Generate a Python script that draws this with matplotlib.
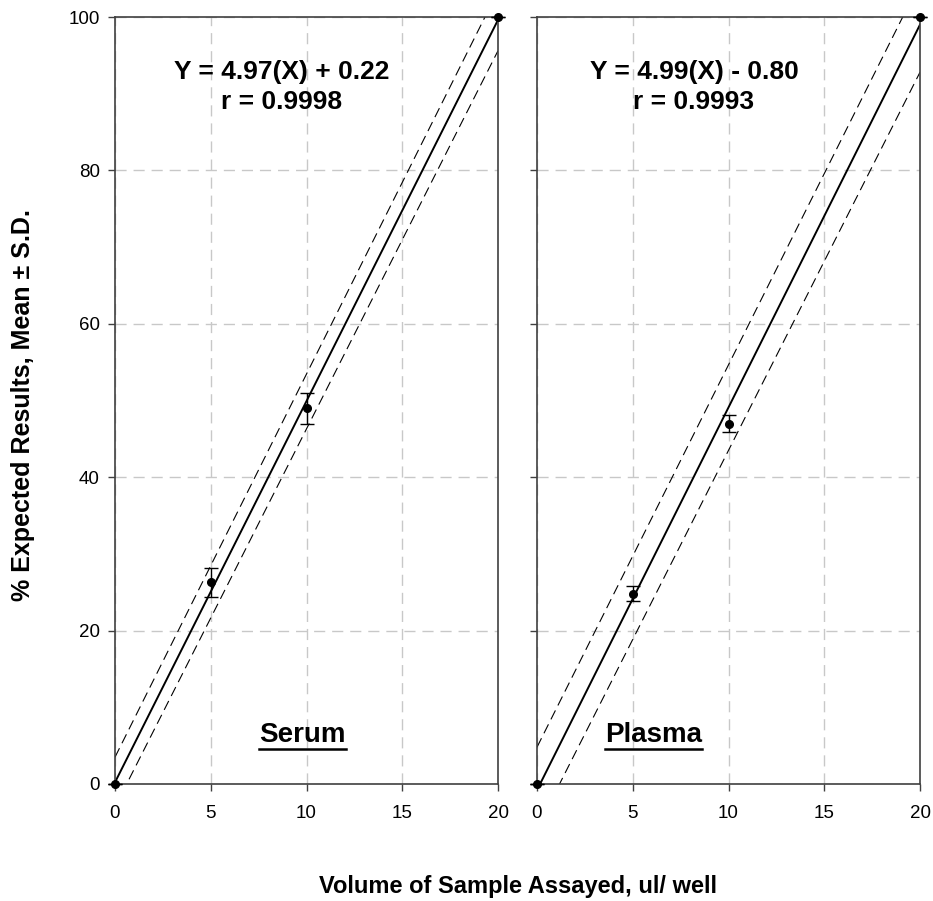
import matplotlib
matplotlib.use("Agg")
import matplotlib.pyplot as plt

plt.rcParams['font.family'] = ['Liberation Sans', 'DejaVu Sans']

# Daten
volumen = [0, 5, 10, 20]
serum_mittel = [0, 26.3, 49.0, 100]
serum_sd = [0, 1.9, 2.0, 0]
plasma_mittel = [0, 24.8, 47.0, 100]
plasma_sd = [0, 1.0, 1.1, 0]

fit_x = [0, 20]
serum_fit = [0.22, 99.62]
serum_oben = [3.5, 103.4]
serum_unten = [-3.0, 95.6]
plasma_fit = [-0.80, 99.0]
plasma_oben = [4.8, 104.5]
plasma_unten = [-5.8, 92.8]

panels = [
    ("Serum", serum_mittel, serum_sd, serum_fit, serum_oben, serum_unten,
     "Y = 4.97(X) + 0.22", "r = 0.9998", 8.7, 9.8),
    ("Plasma", plasma_mittel, plasma_sd, plasma_fit, plasma_oben, plasma_unten,
     "Y = 4.99(X) - 0.80", "r = 0.9993", 8.2, 6.1),
]

fig = plt.figure(figsize=(9.33, 9.01), dpi=100)
W, H = 933, 901
links = [115, 537]

for i, (name, mittel, sd, fit, oben, unten, gl, r, tx, nx) in enumerate(panels):
    ax = fig.add_axes([links[i] / W, (H - 784) / H, 383 / W, 767 / H])
    ax.set_xlim(0, 20)
    ax.set_ylim(0, 100)
    ax.set_xticks([0, 5, 10, 15, 20])
    ax.set_yticks([0, 20, 40, 60, 80, 100])
    ax.grid(True, color='#c8c8c8', linestyle=(0, (8, 5)), linewidth=1)
    ax.set_axisbelow(True)
    for s in ax.spines.values():
        s.set_color('#404040')
        s.set_linewidth(1.2)
    ax.tick_params(direction='out', length=5, width=1, color='#404040',
                   labelsize=13.5, pad=6)
    ax.tick_params(axis='x', pad=10)
    if i == 1:
        ax.set_yticklabels([])

    ax.plot(fit_x, fit, color='black', linewidth=1.4)
    ax.plot(fit_x, oben, color='black', linewidth=0.8, dashes=(9, 5))
    ax.plot(fit_x, unten, color='black', linewidth=0.8, dashes=(9, 5))
    ax.errorbar(volumen, mittel, yerr=sd, fmt='o', color='black', markersize=5.5,
                ecolor='black', elinewidth=1, capsize=5, capthick=1,
                clip_on=False, zorder=5)

    ax.text(tx, 92.8, gl, ha='center', va='center', fontsize=19, fontweight='bold')
    ax.text(tx, 88.9, r, ha='center', va='center', fontsize=19, fontweight='bold')
    ax.text(nx, 6.4, name, ha='center', va='center', fontsize=20, fontweight='bold')
    # Unterstreichung
    t = ax.texts[-1]
    fig.canvas.draw()
    bb = t.get_window_extent().transformed(ax.transData.inverted())
    ax.plot([bb.x0, bb.x1], [bb.y0 - 0.1, bb.y0 - 0.1], color='black', linewidth=1.8)

fig.text(518 / W, 1 - 886 / H, "Volume of Sample Assayed, ul/ well",
         ha='center', va='center', fontsize=17, fontweight='bold')
fig.text(23 / W, 1 - 405 / H, "% Expected Results, Mean \u00b1 S.D.",
         ha='center', va='center', rotation=90, fontsize=18, fontweight='bold')

fig.savefig("out.png", dpi=100)
